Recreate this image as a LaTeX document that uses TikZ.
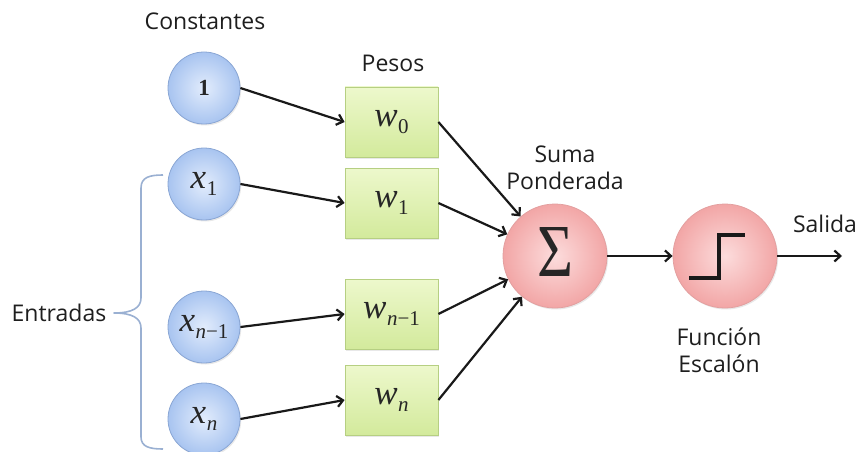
\documentclass[tikz,border=0pt]{standalone}
\usepackage{fontspec}
\setmainfont{Open Sans}
\newfontfamily\vf{Liberation Serif}
\usetikzlibrary{arrows.meta,shadows,calc}
\newcommand\varsym[2]{{\vf\fontsize{35}{35}\selectfont\itshape #1}\kern0.5pt\raisebox{-7pt}{\vf\fontsize{21}{21}\selectfont #2}}
\definecolor{bluein}{HTML}{E2ECFC}
\definecolor{blueout}{HTML}{A8C4F0}
\definecolor{blueline}{HTML}{8AA6D4}
\definecolor{greentop}{HTML}{EDF8CC}
\definecolor{greenbot}{HTML}{D3EA9C}
\definecolor{greenline}{HTML}{B6CF82}
\definecolor{redin}{HTML}{FCDCDC}
\definecolor{redout}{HTML}{F2A6A6}
\definecolor{redline}{HTML}{E3A0A0}
\definecolor{bracecol}{HTML}{9AB0D2}
\definecolor{txt}{HTML}{1E1E1E}
\tikzset{
  inputnode/.style={circle, minimum size=72pt, inner sep=0pt, draw=blueline, line width=0.8pt,
    inner color=bluein, outer color=blueout, text=black!85,
    drop shadow={shadow xshift=1.2pt, shadow yshift=-1.5pt, opacity=0.18}},
  weightnode/.style={rectangle, minimum width=93pt, minimum height=70pt, inner sep=0pt, draw=greenline, line width=0.8pt,
    top color=greentop, bottom color=greenbot, text=black!85,
    drop shadow={shadow xshift=1.2pt, shadow yshift=-1.5pt, opacity=0.18}},
  opnode/.style={circle, minimum size=104pt, inner sep=0pt, draw=redline, line width=0.8pt,
    inner color=redin, outer color=redout,
    drop shadow={shadow xshift=1.2pt, shadow yshift=-1.5pt, opacity=0.18}},
  conn/.style={line width=2.2pt, draw=black!90, -{Straight Barb[length=6pt,width=11pt,line width=2.2pt]}},
  lbl/.style={font=\fontsize{23}{27}\selectfont, text=txt, align=center, inner sep=0pt}
}
\begin{document}
\begin{tikzpicture}[x=1pt,y=-1pt]
\useasboundingbox (0,0) rectangle (860,452);
% inputs
\node[inputnode] (c0) at (204,88) {\vf\bfseries\fontsize{23}{23}\selectfont 1};
\node[inputnode] (c1) at (204,184) {\varsym{x}{1}};
\node[inputnode] (c2) at (204,327) {\varsym{x}{{\itshape n}−1}};
\node[inputnode] (c3) at (204,419) {\varsym{x}{\itshape n}};
% weights
\node[weightnode] (w0) at (391.5,122) {\varsym{w}{0}};
\node[weightnode] (w1) at (391.5,203) {\varsym{w}{1}};
\node[weightnode] (w2) at (391.5,314) {\varsym{w}{{\itshape n}−1}};
\node[weightnode] (w3) at (391.5,400) {\varsym{w}{\itshape n}};
% operators
\node[opnode] (sum) at (555,256) {};
\node[inner sep=0pt, text=black!85] (sig) at ([yshift=4pt]sum.center) {\resizebox{36pt}{49pt}{\vf Σ}};
\node[opnode] (step) at (725,256) {};
\draw[line width=4pt, black!90, line cap=butt]
  ($(step.center)+(-36,22)$) -- ($(step.center)+(-6,22)$) -- ($(step.center)+(-6,-21)$) -- ($(step.center)+(20,-21)$);
\coordinate (out) at (842,256);
% connectors
\draw[conn] (c0.east) -- (w0.west);
\draw[conn] (c1.east) -- (w1.west);
\draw[conn] (c2.east) -- (w2.west);
\draw[conn] (c3.east) -- (w3.west);
\draw[conn] (w0.east) -- (sum);
\draw[conn] (w1.east) -- (sum);
\draw[conn] (w2.east) -- (sum);
\draw[conn] (w3.east) -- (sum);
\draw[conn] (sum.east) -- (step.west);
\draw[conn] (step.east) -- (out);
% labels
\node[lbl] (tconst) at (205,21) {Constantes};
\node[lbl] (tpesos) at (393,63) {Pesos};
\node[lbl] (tsuma) at (565,168) {Suma\\Ponderada};
\node[lbl] (tsal) at (825,224) {Salida};
\node[lbl] (tfun) at (719,350) {Función\\Escalón};
\node[lbl] (tent) at (59,313) {Entradas};
% brace
\draw[bracecol, line width=1.6pt, line join=round]
  (163,175) .. controls (150,175) and (141,177) .. (141,188) -- (141,298)
  .. controls (141,308) and (132,313) .. (114,313)
  .. controls (132,313) and (141,318) .. (141,328) -- (141,437)
  .. controls (141,447) and (150,449) .. (163,449);
\end{tikzpicture}
\end{document}
